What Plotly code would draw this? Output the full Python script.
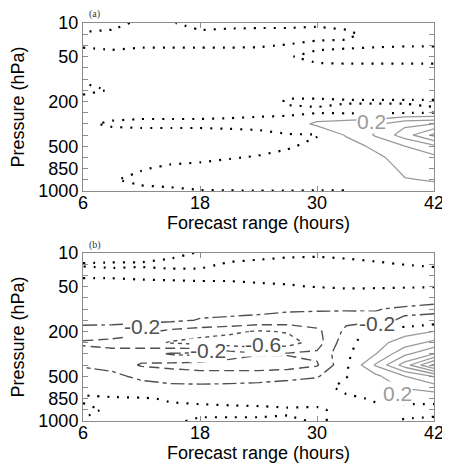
import plotly.graph_objects as go

# ---------------- data ----------------
hours = [6, 9, 12, 15, 18, 21, 24, 27, 30, 33, 36, 39, 42]
pressure_levels = [10, 20, 30, 50, 70, 100, 150, 200, 250, 300, 400, 500, 700, 850, 925, 1000]
labeled_levels = [10, 50, 200, 500, 850, 1000]
x_ticks = [6, 18, 30, 42]

# panel (a) field, one row per pressure level (top to bottom), one value per forecast hour
a_rows = [
    [-0.04, -0.03, 0.02, 0.01, -0.05, -0.04, -0.04, -0.04, -0.02, -0.03, -0.04, -0.04, -0.04],
    [0.01, 0.02, 0.03, 0.04, 0.03, 0.04, 0.05, 0.05, 0.04, 0.02, -0.03, -0.03, -0.03],
    [0.01, 0.02, 0.01, 0.01, 0.01, 0.01, 0.01, -0.005, -0.03, -0.02, -0.01, -0.005, -0.005],
    [-0.04, -0.03, -0.04, -0.04, -0.04, -0.04, -0.05, -0.01, 0.04, 0.05, 0.05, 0.05, 0.05],
    [-0.04, -0.04, -0.04, -0.04, -0.04, -0.04, -0.04, -0.04, -0.03, -0.03, -0.03, -0.03, -0.03],
    [-0.01, -0.04, -0.04, -0.04, -0.04, -0.04, -0.04, -0.04, -0.04, -0.04, -0.04, -0.04, -0.04],
    [0.02, -0.005, -0.04, -0.04, -0.04, -0.04, -0.04, -0.03, -0.03, -0.03, -0.03, -0.03, -0.03],
    [-0.03, -0.04, -0.04, -0.04, -0.04, -0.04, -0.05, 0.01, 0.01, 0.005, 0.005, 0.005, 0.005],
    [-0.05, -0.05, -0.04, -0.04, -0.04, -0.04, -0.03, -0.02, -0.01, -0.02, -0.02, -0.02, -0.005],
    [-0.02, 0.02, 0.03, 0.03, 0.03, 0.04, 0.05, 0.05, 0.25, 0.3, 0.35, 0.55, 0.6],
    [-0.05, -0.05, -0.05, -0.05, -0.05, -0.05, -0.04, -0.005, -0.01, 0.22, 0.42, 0.7, 1.05],
    [-0.05, -0.06, -0.06, -0.06, -0.05, -0.05, -0.05, -0.02, 0.05, 0.1, 0.25, 0.4, 0.55],
    [-0.05, -0.06, -0.05, -0.05, -0.04, -0.01, 0.01, 0.05, 0.06, 0.08, 0.15, 0.3, 0.35],
    [-0.05, -0.05, -0.01, 0.03, 0.05, 0.06, 0.06, 0.06, 0.05, 0.06, 0.1, 0.24, 0.26],
    [-0.04, -0.01, 0.04, 0.04, 0.05, 0.06, 0.07, 0.08, 0.05, 0.04, 0.06, 0.19, 0.21],
    [-0.03, -0.04, -0.04, -0.02, -0.005, -0.003, -0.003, -0.003, -0.003, -0.002, 0.01, 0.1, 0.15],
]

# panel (b) field
b_rows = [
    [0.05, 0.05, 0.05, 0.02, -0.005, -0.04, -0.03, -0.02, -0.015, -0.02, -0.03, -0.03, -0.03],
    [-0.005, -0.01, -0.01, -0.02, -0.02, 0.01, 0.02, 0.03, 0.03, 0.02, 0.01, -0.002, -0.01],
    [0.02, 0.02, 0.03, 0.03, 0.03, 0.04, 0.04, 0.04, 0.04, 0.04, 0.04, 0.04, 0.03],
    [-0.06, -0.06, -0.05, -0.04, -0.03, -0.04, -0.02, -0.01, 0.005, 0.01, 0.01, 0.01, 0.005],
    [-0.1, -0.1, -0.09, -0.09, -0.1, -0.12, -0.13, -0.13, -0.1, -0.05, -0.06, -0.09, -0.12],
    [-0.13, -0.12, -0.12, -0.12, -0.15, -0.16, -0.15, -0.17, -0.18, -0.19, -0.19, -0.23, -0.26],
    [-0.12, -0.13, -0.14, -0.16, -0.21, -0.22, -0.25, -0.28, -0.28, -0.25, -0.24, -0.18, -0.12],
    [-0.3, -0.3, -0.35, -0.45, -0.5, -0.55, -0.62, -0.58, -0.45, -0.15, 0.1, 0.12, 0.2],
    [-0.42, -0.45, -0.5, -0.62, -0.68, -0.72, -0.75, -0.7, -0.5, -0.06, 0.12, 0.3, 0.45],
    [-0.35, -0.35, -0.3, -0.18, -0.15, -0.3, -0.38, -0.38, -0.36, -0.04, 0.19, 0.55, 0.8],
    [-0.22, -0.28, -0.42, -0.45, -0.48, -0.5, -0.52, -0.5, -0.42, -0.03, 0.42, 0.9, 1.45],
    [-0.12, -0.14, -0.26, -0.3, -0.32, -0.3, -0.28, -0.25, -0.22, -0.01, 0.15, 0.4, 0.62],
    [-0.05, -0.06, -0.1, -0.15, -0.15, -0.15, -0.14, -0.12, -0.08, 0.06, 0.12, 0.22, 0.3],
    [0.02, 0.01, 0.01, -0.01, -0.02, -0.03, -0.04, -0.04, -0.03, -0.04, 0.02, 0.04, 0.05],
    [-0.03, 0.02, 0.02, 0.02, 0.02, 0.02, 0.02, 0.01, 0.01, -0.02, -0.04, -0.04, -0.05],
    [0.01, 0.01, 0.01, 0.01, -0.01, -0.01, -0.01, -0.01, 0.005, -0.01, -0.02, 0.01, 0.03],
]

positive_levels = [0.2, 0.4, 0.6, 0.8, 1.0, 1.2, 1.4]
negative_levels = [-0.2, -0.4, -0.6, -0.8]

# contour labels: (panel, text, hour, level index)
label_panel = ["a", "b", "b", "b", "b", "b"]
label_text = ["0.2", "-0.2", "-0.2", "-0.6", "-0.2", "0.2"]
label_hour = [35.6, 12.05, 18.8, 24.5, 36.2, 38.3]
label_level = [8.8, 6.6, 8.7, 8.2, 6.3, 12.5]

# ---------------- styles ----------------
FONT = "Liberation Sans, Arial, Helvetica, sans-serif"
ZERO_STYLE = dict(color="black", width=2.2, dash="2px,8px")
POS_COLOR = "#9a9a9a"
NEG_COLOR = "#505050"
NEG_DASH = {-0.2: "14px,4px,4px,4px", -0.4: "10px,5px", -0.6: "4px,4px", -0.8: "2px,3px"}
FRAME = "#8c8c8c"

level_idx = list(range(len(pressure_levels)))
tick_text = [str(p) if p in labeled_levels else "" for p in pressure_levels]
unlabeled_idx = [i for i, p in enumerate(pressure_levels) if p not in labeled_levels]

fig = go.Figure()


def add_level(z, level, line, xa, ya):
    fig.add_trace(go.Contour(
        x=hours, y=level_idx, z=z,
        autocontour=False,
        contours=dict(start=level, end=level, size=1, coloring="none", showlabels=False),
        line=dict(smoothing=0, **line),
        showscale=False, hoverinfo="skip", xaxis=xa, yaxis=ya,
    ))


for z, xa, ya in ((a_rows, "x", "y"), (b_rows, "x2", "y2")):
    for lv in positive_levels:
        add_level(z, lv, dict(color=POS_COLOR, width=1.3), xa, ya)
    for lv in negative_levels:
        add_level(z, lv, dict(color=NEG_COLOR, width=1.4, dash=NEG_DASH[lv]), xa, ya)
    add_level(z, 0.0, ZERO_STYLE, xa, ya)

annotations = []
for p, t, h, lv in zip(label_panel, label_text, label_hour, label_level):
    annotations.append(dict(
        x=h, y=lv, xref="x" if p == "a" else "x2", yref="y" if p == "a" else "y2",
        text=t, showarrow=False, bgcolor="white", borderpad=0,
        font=dict(family=FONT, size=21, color=POS_COLOR if not t.startswith("-") else NEG_COLOR),
    ))

# panel tags
for txt, yy in (("(a)", 1.0226), ("(b)", 0.442)):
    annotations.append(dict(x=0.034, y=yy, xref="paper", yref="paper", text=txt, showarrow=False,
                            font=dict(family="Liberation Serif, Times New Roman, serif", size=10, color="#334"),
                            xanchor="center", yanchor="middle"))

axis_common = dict(showgrid=False, zeroline=False, showline=True, linecolor=FRAME, linewidth=1,
                   mirror="ticks", ticks="inside", ticklen=5, tickcolor=FRAME, automargin=False,
                   tickfont=dict(family=FONT, size=18, color="black"))

xcfg = dict(range=[6, 42], tickvals=x_ticks, ticktext=[str(v) for v in x_ticks], ticklabelstandoff=-5,
            title=dict(text="Forecast range (hours)", font=dict(family=FONT, size=18, color="black"), standoff=0),
            **axis_common)
ycfg = dict(range=[15, 0], tickvals=level_idx, ticktext=tick_text,
            title=dict(text="Pressure (hPa)", font=dict(family=FONT, size=18, color="black"), standoff=10),
            **axis_common)
# small dark outer marks at the unlabeled pressure levels
ymarks = dict(range=[15, 0], tickvals=unlabeled_idx, ticktext=["" for _ in unlabeled_idx],
              ticks="outside", ticklen=5, tickwidth=2, tickcolor="black", showline=False,
              showgrid=False, zeroline=False, showticklabels=False, side="left", automargin=False)

# the page adds an 8px body margin, so the figure is 8px smaller than the window
fig.update_layout(
    width=442, height=457,
    margin=dict(l=75, r=16, t=15, b=44, autoexpand=False),
    paper_bgcolor="white", plot_bgcolor="white",
    showlegend=False,
    xaxis=dict(domain=[0, 1], anchor="y", **xcfg),
    yaxis=dict(domain=[0.5779, 1], anchor="x", **ycfg),
    xaxis2=dict(domain=[0, 1], anchor="y2", **xcfg),
    yaxis2=dict(domain=[0, 0.4221], anchor="x2", **ycfg),
    yaxis3=dict(overlaying="y", anchor="x", **ymarks),
    yaxis4=dict(overlaying="y2", anchor="x2", **ymarks),
    annotations=annotations,
)

fig.write_html("out.html")
